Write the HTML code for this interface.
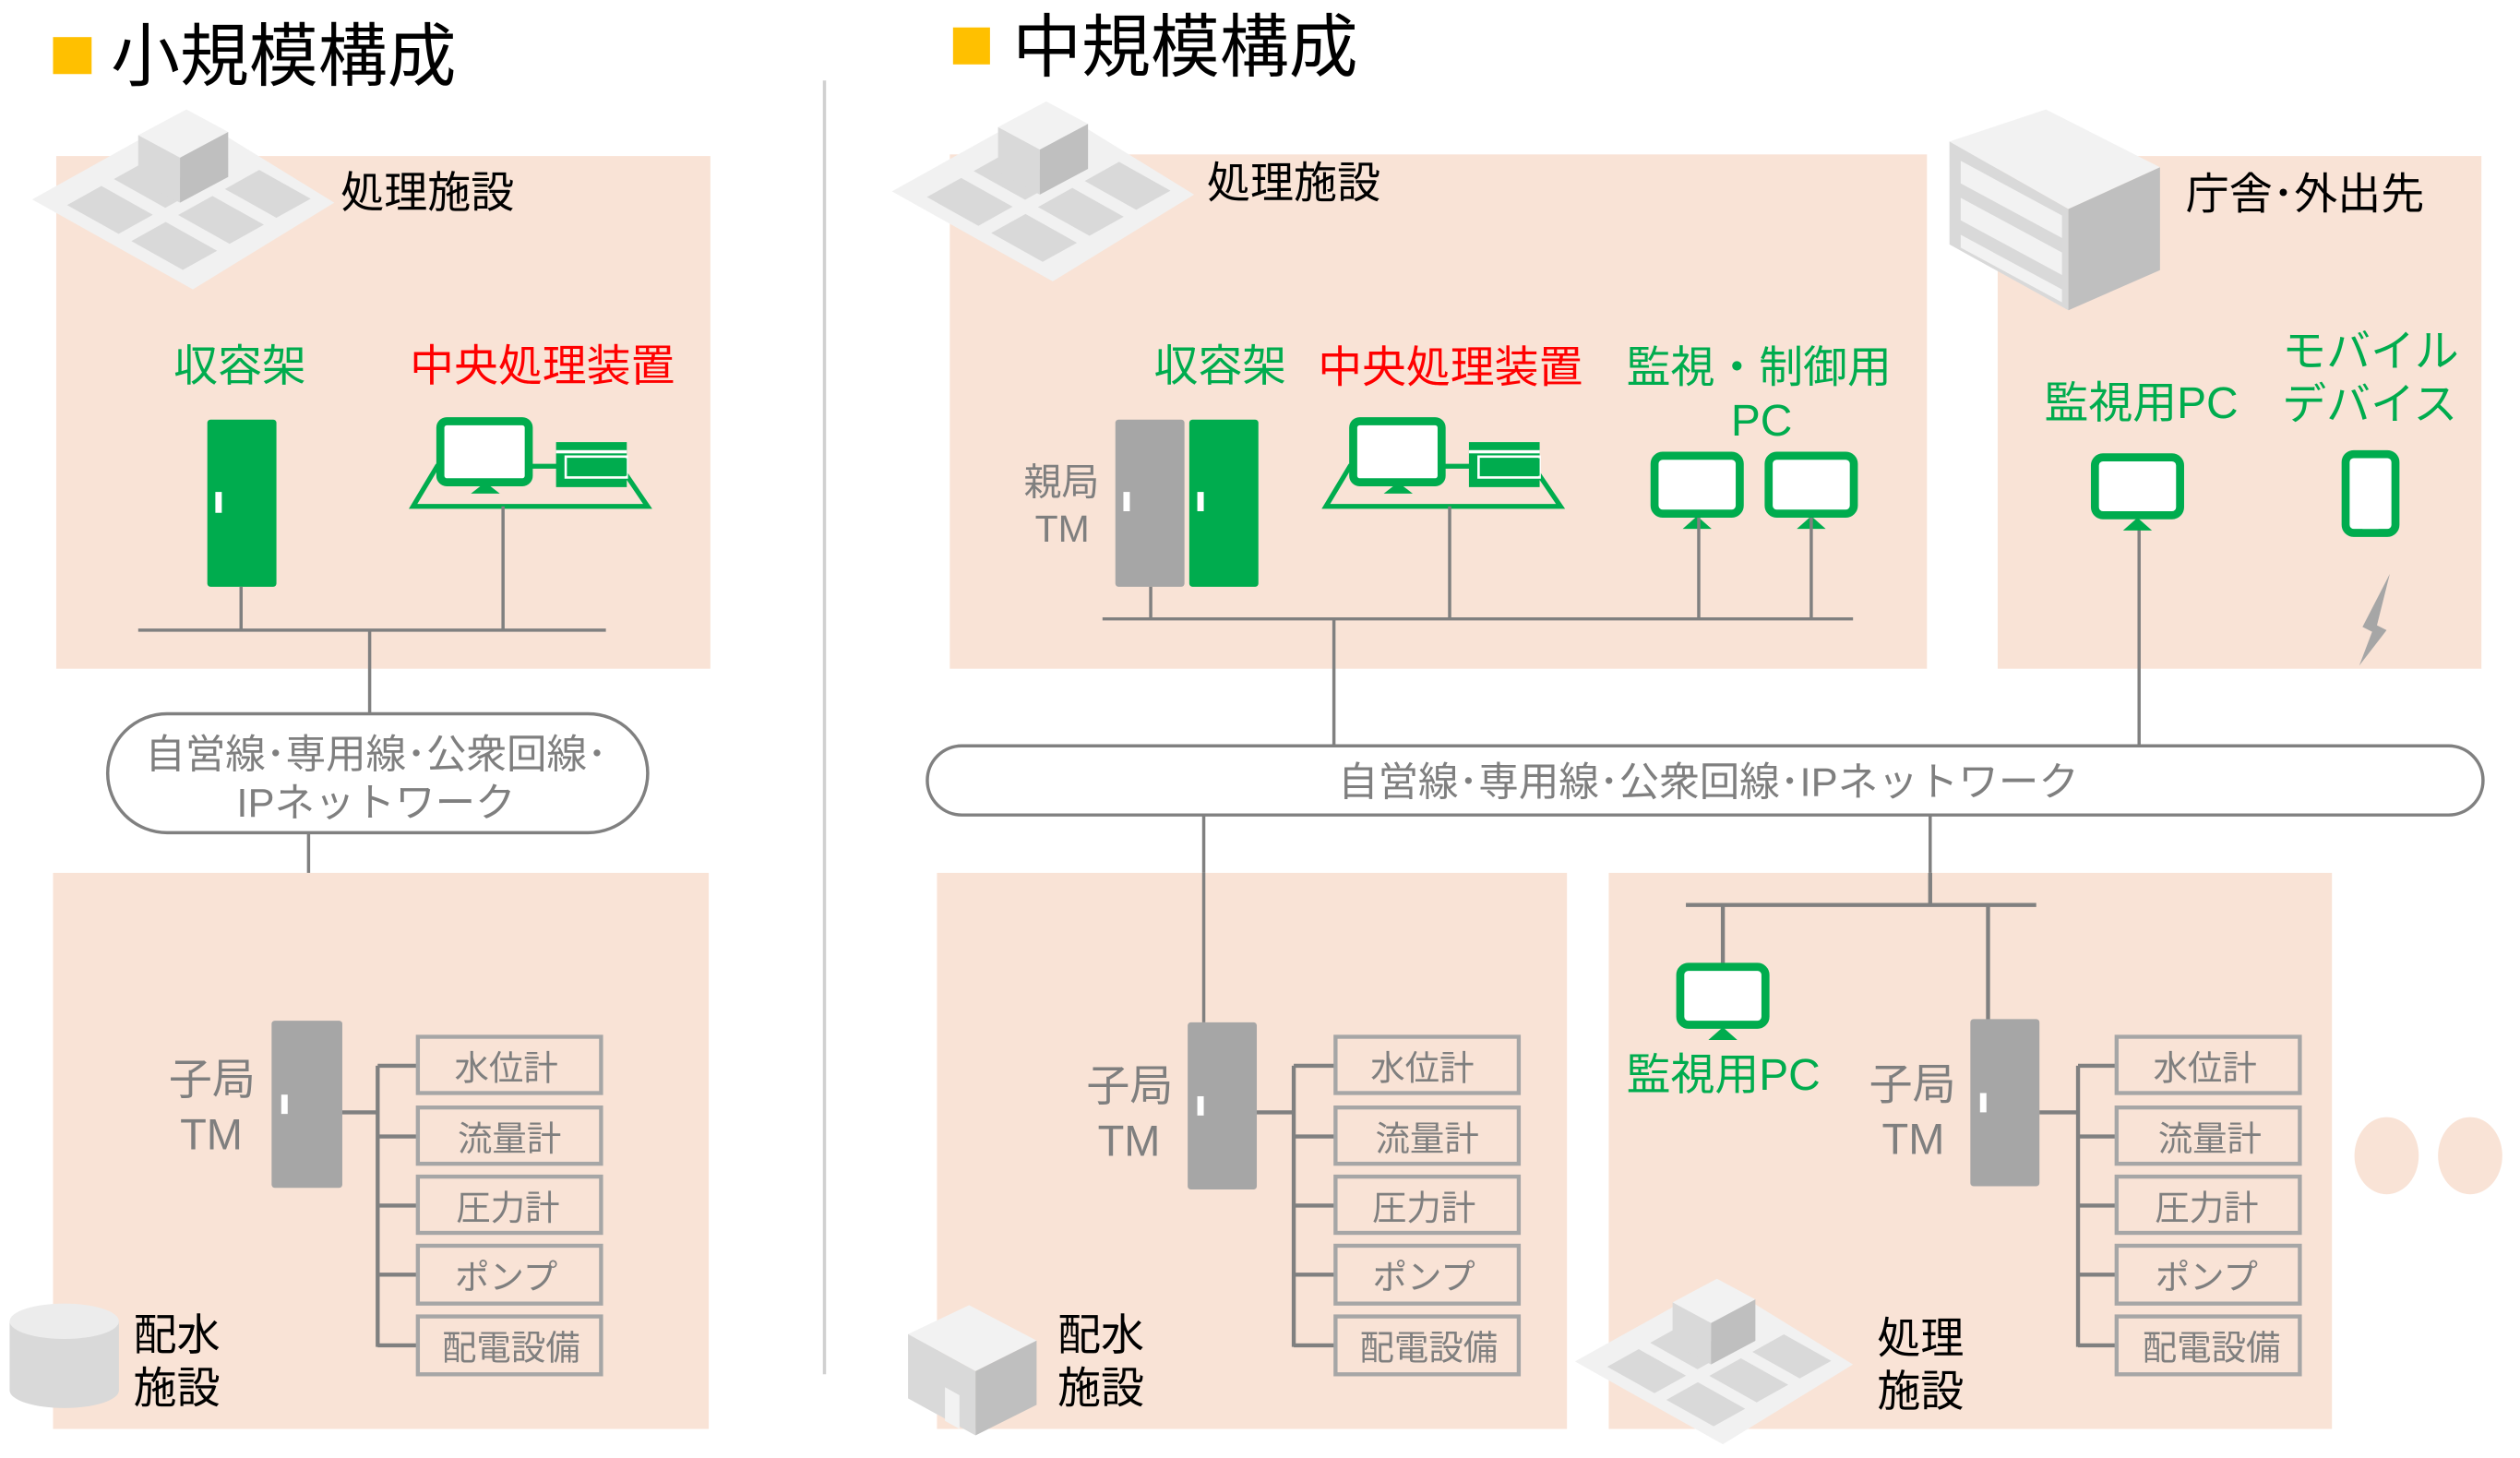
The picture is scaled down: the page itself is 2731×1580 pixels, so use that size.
<!DOCTYPE html>
<html><head><meta charset="utf-8"><style>
html,body{margin:0;padding:0;background:#fff;width:2731px;height:1580px;overflow:hidden}
svg{display:block}
text{font-family:"Liberation Sans","Noto Sans CJK JP",sans-serif}
</style></head><body>
<svg width="2731" height="1580" viewBox="0 0 1568 907" xmlns="http://www.w3.org/2000/svg">
<defs>
<g id="plant">
 <polygon points="0,62 97,8 188,64 100,118" fill="#f1f1f1"/>
 <g transform="matrix(0.97,-0.54,1,0.56,0,62)" fill="#d9d9d9">
  <rect x="8" y="14" width="22" height="32"/>
  <rect x="8" y="54" width="22" height="32"/>
  <rect x="38" y="54" width="22" height="32"/>
  <rect x="38" y="14" width="22" height="32"/>
  <rect x="68" y="54" width="22" height="32"/>
 </g>
 <polygon points="66,22 96,6 122,20 92,36" fill="#f2f2f2"/>
 <polygon points="66,22 92,36 92,64 66,50" fill="#d9d9d9"/>
 <polygon points="92,36 122,20 122,48 92,64" fill="#bfbfbf"/>
</g>
<g id="pcdesk">
 <polygon points="17,30 131,30 148,55 2,55" fill="none" stroke="#00ac4e" stroke-width="3"/>
 <rect x="19" y="2" width="55" height="38" rx="4" fill="#fff" stroke="#00ac4e" stroke-width="5"/>
 <polygon points="38,47 56,47 47,40" fill="#00ac4e"/>
 <rect x="91" y="15" width="44" height="28" fill="#00ac4e"/>
 <rect x="91" y="20" width="44" height="2" fill="#fff"/>
 <polygon points="97,24 135,24 135,37 97,37" fill="none" stroke="#fff" stroke-width="1.5"/>
 <rect x="98" y="25" width="37" height="11" fill="#00ac4e"/>
</g>
<g id="mon">
 <rect x="2.5" y="2.5" width="53" height="36" rx="5" fill="#fff" stroke="#00ac4e" stroke-width="5"/>
 <polygon points="20,48 38,48 29,40" fill="#00ac4e"/>
</g>
<g id="sensors" fill="none" stroke="#a6a6a6" stroke-width="2.5">
 <rect x="0" y="0" width="114" height="35"/>
 <rect x="0" y="44" width="114" height="35"/>
 <rect x="0" y="87" width="114" height="35"/>
 <rect x="0" y="130" width="114" height="36"/>
 <rect x="0" y="174" width="114" height="36"/>
</g>
</defs>

<!-- ===== LEFT ===== -->
<rect x="33" y="23" width="24" height="23" fill="#ffc000"/>
<text x="69" y="50" font-size="43" fill="#000">小規模構成</text>
<rect x="35" y="97" width="407" height="319" fill="#f9e3d6"/>
<use href="#plant" x="20" y="62"/>
<text x="212" y="129" font-size="27" fill="#000">処理施設</text>
<text x="108" y="237" font-size="27.5" fill="#00ac4e">収容架</text>
<text x="255" y="237" font-size="27.5" fill="#ff0000">中央処理装置</text>
<rect x="129" y="261" width="43" height="104" rx="2" fill="#00ac4e"/>
<rect x="134" y="306" width="4" height="13" fill="#fff"/>
<use href="#pcdesk" x="255" y="260"/>
<g stroke="#808080" stroke-width="2" fill="none">
 <line x1="86" y1="392" x2="377" y2="392"/>
 <line x1="150" y1="365" x2="150" y2="392"/>
 <line x1="313" y1="315" x2="313" y2="392"/>
 <line x1="230" y1="392" x2="230" y2="444"/>
 <rect x="67" y="444" width="336" height="74" rx="37" fill="#fff"/>
 <line x1="192" y1="518" x2="192" y2="636"/>
</g>
<text x="234" y="478" font-size="25" fill="#7f7f7f" text-anchor="middle">自営線･専用線･公衆回線･</text>
<text x="234" y="508" font-size="25" fill="#7f7f7f" text-anchor="middle">IPネットワーク</text>
<rect x="33" y="543" width="408" height="346" fill="#f9e3d6"/>
<rect x="169" y="635" width="44" height="104" rx="2" fill="#a6a6a6"/>
<rect x="175" y="681" width="4" height="12" fill="#fff"/>
<text x="105" y="681" font-size="27" fill="#7f7f7f">子局</text>
<text x="112" y="715" font-size="27" fill="#7f7f7f">TM</text>
<g stroke="#808080" stroke-width="2.5" fill="none">
 <line x1="213" y1="692" x2="235" y2="692"/>
 <line x1="235" y1="663" x2="235" y2="838"/>
 <line x1="235" y1="663" x2="260" y2="663"/><line x1="235" y1="707" x2="260" y2="707"/>
 <line x1="235" y1="750" x2="260" y2="750"/><line x1="235" y1="793" x2="260" y2="793"/>
 <line x1="235" y1="837" x2="260" y2="837"/>
</g>
<use href="#sensors" x="260" y="645"/>
<g font-size="21.5" fill="#7f7f7f" text-anchor="middle">
 <text x="315" y="672">水位計</text><text x="317" y="716">流量計</text><text x="316" y="759">圧力計</text><text x="315" y="802">ポンプ</text><text x="318" y="846">配電設備</text>
</g>
<ellipse cx="40" cy="865" rx="34" ry="11" fill="#d9d9d9"/>
<rect x="6" y="822" width="68" height="43" fill="#d9d9d9"/>
<ellipse cx="40" cy="822" rx="34" ry="11" fill="#ececec"/>
<text x="83" y="840" font-size="27" fill="#000">配水</text>
<text x="83" y="873" font-size="27" fill="#000">施設</text>

<line x1="513" y1="50" x2="513" y2="855" stroke="#d0d0d0" stroke-width="2"/>

<!-- ===== RIGHT ===== -->
<rect x="593" y="17" width="23" height="23" fill="#ffc000"/>
<text x="630" y="44" font-size="43" fill="#000">中規模構成</text>
<rect x="591" y="96" width="608" height="320" fill="#f9e3d6"/>
<use href="#plant" x="555" y="57"/>
<text x="751" y="123" font-size="27" fill="#000">処理施設</text>
<rect x="1243" y="97" width="301" height="319" fill="#f9e3d6"/>
<g>
 <polygon points="1213,88 1273,68 1344,104 1287,130" fill="#f2f2f2"/>
 <polygon points="1213,88 1287,130 1287,193 1213,152" fill="#d9d9d9"/>
 <polygon points="1220,100 1283,134 1283,148 1220,114" fill="#f2f2f2"/>
 <polygon points="1220,123 1283,157 1283,171 1220,137" fill="#f2f2f2"/>
 <polygon points="1220,146 1283,180 1283,188 1220,154" fill="#f2f2f2"/>
 <polygon points="1287,130 1344,104 1344,168 1287,193" fill="#bfbfbf"/>
</g>
<text x="1360" y="130" font-size="27" fill="#000">庁舎･外出先</text>

<text x="718" y="237" font-size="27.5" fill="#00ac4e">収容架</text>
<text x="820" y="238" font-size="27.5" fill="#ff0000">中央処理装置</text>
<text x="1012" y="238" font-size="27.5" fill="#00ac4e">監視・制御用</text>
<text x="1077" y="271" font-size="27.5" fill="#00ac4e">PC</text>
<text x="637" y="308" font-size="23.5" fill="#7f7f7f">親局</text>
<text x="644" y="337" font-size="23.5" fill="#7f7f7f">TM</text>
<rect x="694" y="261" width="43" height="104" rx="2" fill="#a6a6a6"/>
<rect x="699" y="306" width="4" height="12" fill="#fff"/>
<rect x="740" y="261" width="43" height="104" rx="2" fill="#00ac4e"/>
<rect x="745" y="306" width="4" height="12" fill="#fff"/>
<use href="#pcdesk" x="823" y="260"/>
<use href="#mon" x="1027" y="281"/>
<use href="#mon" x="1098" y="281"/>
<g stroke="#808080" stroke-width="2" fill="none">
 <line x1="686" y1="385" x2="1153" y2="385"/>
 <line x1="716" y1="365" x2="716" y2="385"/>
 <line x1="902" y1="315" x2="902" y2="385"/>
 <line x1="1057" y1="322" x2="1057" y2="385"/>
 <line x1="1127" y1="322" x2="1127" y2="385"/>
 <line x1="830" y1="385" x2="830" y2="464"/>
 <line x1="1331" y1="324" x2="1331" y2="464"/>
</g>
<text x="1272" y="260" font-size="27.5" fill="#00ac4e">監視用PC</text>
<text x="1420" y="228" font-size="27.5" fill="#00ac4e">モバイル</text>
<text x="1420" y="261" font-size="27.5" fill="#00ac4e">デバイス</text>
<use href="#mon" x="1301" y="282"/>
<rect x="1459.5" y="282.5" width="31" height="49" rx="5" fill="#fff" stroke="#00ac4e" stroke-width="5"/>
<rect x="1470" y="326" width="10" height="3" fill="#fff"/>
<polygon points="1487,357 1479,389 1485,392 1468,414 1476,393 1470,390" fill="#a6a6a6"/>

<rect x="577" y="464" width="968" height="43" rx="21.5" fill="#fff" stroke="#808080" stroke-width="2"/>
<text x="1063" y="495" font-size="25" fill="#7f7f7f" text-anchor="middle">自営線･専用線･公衆回線･IPネットワーク</text>
<g stroke="#808080" stroke-width="2" fill="none">
 <line x1="749" y1="507" x2="749" y2="636"/>
 <line x1="1201" y1="507" x2="1201" y2="563"/>
</g>

<!-- bottom middle -->
<rect x="583" y="543" width="392" height="346" fill="#f9e3d6"/>
<line x1="749" y1="543" x2="749" y2="636" stroke="#808080" stroke-width="2"/>
<rect x="739" y="636" width="43" height="104" rx="2" fill="#a6a6a6"/>
<rect x="745" y="682" width="4" height="12" fill="#fff"/>
<text x="676" y="685" font-size="27" fill="#7f7f7f">子局</text>
<text x="683" y="719" font-size="27" fill="#7f7f7f">TM</text>
<g stroke="#808080" stroke-width="2.5" fill="none">
 <line x1="782" y1="692" x2="805" y2="692"/>
 <line x1="805" y1="663" x2="805" y2="838"/>
 <line x1="805" y1="663" x2="831" y2="663"/><line x1="805" y1="707" x2="831" y2="707"/>
 <line x1="805" y1="750" x2="831" y2="750"/><line x1="805" y1="793" x2="831" y2="793"/>
 <line x1="805" y1="837" x2="831" y2="837"/>
</g>
<use href="#sensors" x="831" y="645"/>
<g font-size="21.5" fill="#7f7f7f" text-anchor="middle">
 <text x="885" y="672">水位計</text><text x="888" y="716">流量計</text><text x="886" y="759">圧力計</text><text x="886" y="802">ポンプ</text><text x="889" y="846">配電設備</text>
</g>
<g>
 <polygon points="565,830 603,812 645,834 607,853" fill="#f2f2f2"/>
 <polygon points="565,830 607,853 607,893 565,870" fill="#d9d9d9"/>
 <polygon points="607,853 645,834 645,874 607,893" fill="#bfbfbf"/>
 <polygon points="588,863 597,868 597,889 588,884" fill="#f2f2f2"/>
</g>
<text x="658" y="840" font-size="27" fill="#000">配水</text>
<text x="658" y="873" font-size="27" fill="#000">施設</text>

<!-- bottom right -->
<rect x="1001" y="543" width="450" height="346" fill="#f9e3d6"/>
<g stroke="#808080" stroke-width="2.5" fill="none">
 <line x1="1201" y1="543" x2="1201" y2="563"/>
 <line x1="1049" y1="563" x2="1267" y2="563"/>
 <line x1="1072" y1="563" x2="1072" y2="600"/>
 <line x1="1237" y1="563" x2="1237" y2="635"/>
</g>
<use href="#mon" x="1043" y="599"/>
<text x="1012" y="678" font-size="27.5" fill="#00ac4e">監視用PC</text>
<rect x="1226" y="634" width="43" height="104" rx="2" fill="#a6a6a6"/>
<rect x="1232" y="680" width="4" height="12" fill="#fff"/>
<text x="1163" y="684" font-size="27" fill="#7f7f7f">子局</text>
<text x="1171" y="718" font-size="27" fill="#7f7f7f">TM</text>
<g stroke="#808080" stroke-width="2.5" fill="none">
 <line x1="1269" y1="692" x2="1293" y2="692"/>
 <line x1="1293" y1="663" x2="1293" y2="838"/>
 <line x1="1293" y1="663" x2="1317" y2="663"/><line x1="1293" y1="707" x2="1317" y2="707"/>
 <line x1="1293" y1="750" x2="1317" y2="750"/><line x1="1293" y1="793" x2="1317" y2="793"/>
 <line x1="1293" y1="837" x2="1317" y2="837"/>
</g>
<use href="#sensors" x="1317" y="645"/>
<g font-size="21.5" fill="#7f7f7f" text-anchor="middle">
 <text x="1372" y="672">水位計</text><text x="1375" y="716">流量計</text><text x="1373" y="759">圧力計</text><text x="1373" y="802">ポンプ</text><text x="1376" y="846">配電設備</text>
</g>
<use href="#plant" transform="translate(980,790) scale(0.92)"/>
<text x="1168" y="842" font-size="27" fill="#000">処理</text>
<text x="1168" y="875" font-size="27" fill="#000">施設</text>

<ellipse cx="1485" cy="719" rx="20" ry="24" fill="#f9e3d6"/>
<ellipse cx="1537" cy="719" rx="20" ry="24" fill="#f9e3d6"/>
</svg>
</body></html>
